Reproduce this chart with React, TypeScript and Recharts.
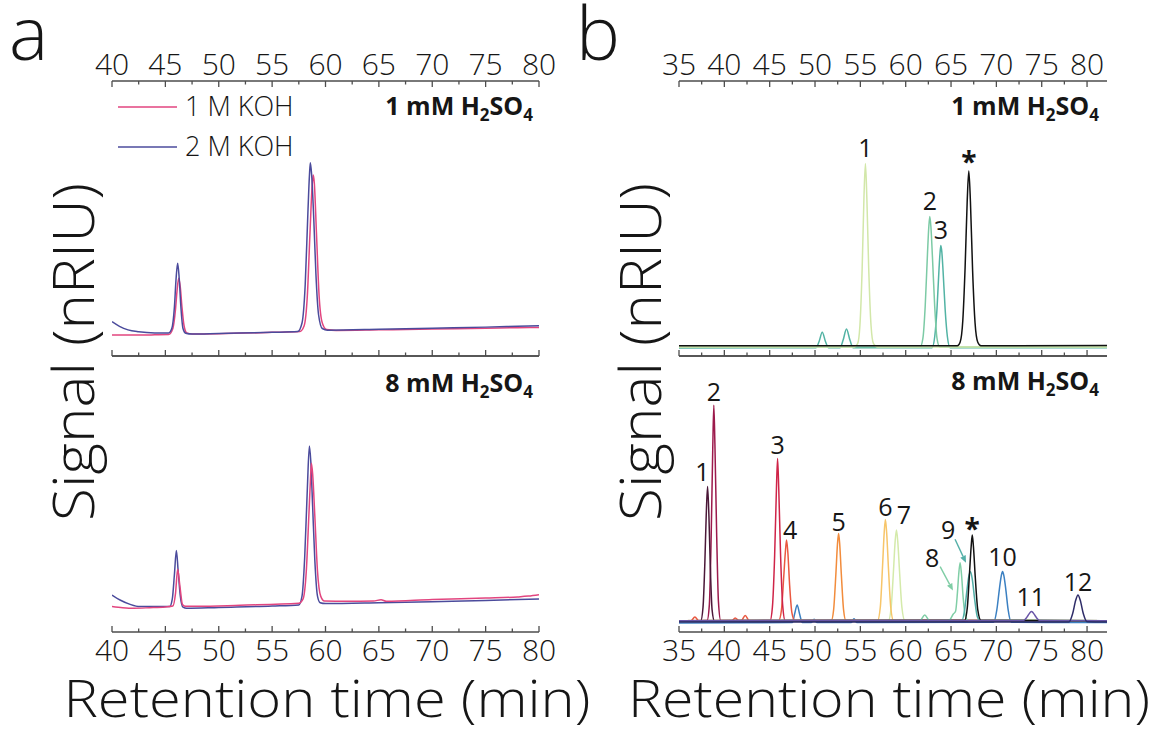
import React from 'react';
import { LineChart, Line, XAxis, YAxis, ReferenceDot, ReferenceLine } from 'recharts';

type Pt = [number, number];

const FONT = "'Open Sans', 'Noto Sans', 'DejaVu Sans', sans-serif";
const FRAME = '#4d4d4d';
const INK = '#161616';

// ---------- (a) eluent comparison, 1 mM H2SO4 ----------
const aTopKoh1: Pt[] = [
  [40, 7.6], [42, 7.6], [44, 7.7], [45.3, 7.8], [45.7, 10], [45.95, 17], [46.1, 24], [46.25, 28.3],
  [46.4, 25], [46.55, 18], [46.75, 11], [47.0, 8.4], [47.5, 8.0], [50, 8.1], [55, 8.6], [57.6, 8.9],
  [58.0, 11], [58.3, 22], [58.55, 45], [58.75, 62], [58.85, 65.8], [58.95, 63], [59.15, 45], [59.4, 22],
  [59.7, 12], [60.1, 9.6], [61, 9.3], [65, 9.5], [70, 9.8], [75, 10.1], [78, 10.3], [80, 10.4],
];
const aTopKoh2: Pt[] = [
  [40, 12.5], [40.7, 10.8], [41.5, 9.5], [42.5, 8.8], [44, 8.4], [45.3, 8.4], [45.6, 10], [45.85, 18],
  [46.0, 28], [46.15, 33.7], [46.3, 28], [46.45, 18], [46.65, 10], [46.9, 8.3], [47.5, 8.0], [50, 8.2],
  [55, 8.6], [57.4, 8.9], [57.8, 12], [58.1, 26], [58.35, 52], [58.5, 66], [58.58, 70.3], [58.7, 66],
  [58.9, 50], [59.1, 30], [59.35, 15], [59.7, 10], [60.2, 9.4], [65, 9.7], [70, 10.1], [75, 10.5],
  [78, 10.8], [80, 11.0],
];

// ---------- (a) eluent comparison, 8 mM H2SO4 ----------
const aBotKoh1: Pt[] = [
  [40, 9.2], [41, 8.8], [42, 8.6], [43.5, 8.8], [45, 9.1], [45.7, 9.4], [45.95, 14], [46.15, 22.7],
  [46.35, 17], [46.6, 10], [46.9, 9.3], [48, 9.3], [52, 9.7], [57.5, 10.4], [57.9, 12], [58.2, 22],
  [58.45, 43], [58.6, 56], [58.68, 61.1], [58.8, 57], [59.0, 42], [59.25, 22], [59.55, 13], [59.9, 11.2],
  [62, 11.1], [64.5, 11.2], [65.2, 11.7], [65.7, 11.1], [70, 11.8], [75, 12.3], [78, 12.7], [79, 13.0],
  [80, 13.5],
];
const aBotKoh2: Pt[] = [
  [40, 13.4], [40.8, 11.5], [41.7, 10.0], [42.6, 9.2], [44, 9.2], [45.4, 9.2], [45.65, 12], [45.85, 21],
  [46.03, 29.5], [46.2, 22], [46.4, 13], [46.65, 9], [47, 8.6], [50, 8.9], [55, 9.4], [57.5, 9.8],
  [57.8, 13], [58.05, 27], [58.3, 52], [58.49, 67.4], [58.62, 62], [58.8, 45], [59.0, 26], [59.25, 13],
  [59.5, 10.6], [60, 10.3], [65, 10.6], [70, 11.0], [75, 11.4], [80, 12.0],
];

// ---------- (b) standards, 1 mM H2SO4 ----------
const bTopP1: Pt[] = [
  [35, 3.3], [54.3, 3.3], [54.7, 4.5], [54.95, 11], [55.2, 32], [55.4, 58], [55.56, 70], [55.72, 57],
  [55.92, 32], [56.18, 11], [56.45, 4.5], [56.9, 3.3], [82.2, 3.3],
];
const bTopP2: Pt[] = [
  [35, 3.2], [61.6, 3.3], [61.9, 6.5], [62.15, 18], [62.4, 37], [62.55, 47], [62.66, 50.7], [62.78, 47],
  [62.95, 36], [63.2, 18], [63.45, 6.5], [63.75, 3.3], [82.2, 3.2],
];
const bTopP3: Pt[] = [
  [35, 2.9], [50.1, 3.0], [50.45, 5.3], [50.8, 8.6], [51.15, 5.3], [51.5, 3.0], [52.75, 3.0], [53.1, 5.8],
  [53.47, 9.8], [53.85, 5.8], [54.2, 3.0], [62.9, 3.0], [63.2, 7], [63.45, 17], [63.68, 32], [63.8, 38],
  [63.88, 40.2], [63.98, 38], [64.12, 31], [64.35, 17], [64.6, 7], [64.9, 3.0], [82.2, 3.0],
];
const bTopRef: Pt[] = [
  [35, 3.7], [65.7, 3.7], [66.0, 5], [66.3, 13], [66.55, 32], [66.78, 56], [66.96, 67.3], [67.14, 56],
  [67.38, 31], [67.65, 12], [67.95, 5], [68.3, 3.7], [82.2, 3.8],
];

// ---------- (b) standards, 8 mM H2SO4 ----------
const bBotP1: Pt[] = [
  [35, 4.0], [37.4, 4.1], [37.65, 9], [37.85, 25], [38.0, 42], [38.15, 52.7], [38.3, 42], [38.45, 24],
  [38.65, 8], [38.9, 4.1], [82.2, 4.1],
];
const bBotP2: Pt[] = [
  [35, 4.1], [38.1, 4.2], [38.35, 10], [38.55, 35], [38.72, 66], [38.84, 82.2], [38.96, 68], [39.15, 36],
  [39.35, 11], [39.6, 4.2], [82.2, 4.1],
];
const bBotP3: Pt[] = [
  [35, 4.1], [45.05, 4.2], [45.3, 9], [45.55, 28], [45.73, 50], [45.87, 62.9], [46.0, 52], [46.2, 28],
  [46.45, 9], [46.7, 4.2], [82.2, 4.1],
];
const bBotP4: Pt[] = [
  [35, 4.0], [36.3, 4.0], [36.75, 5.4], [37.2, 4.0], [40.8, 4.0], [41.2, 5.1], [41.6, 4.1], [41.9, 4.2],
  [42.3, 6.0], [42.75, 4.1], [46.0, 4.2], [46.3, 8], [46.55, 20], [46.73, 29], [46.86, 33.3], [47.0, 29],
  [47.2, 17], [47.45, 7], [47.75, 4.2], [82.2, 4.1],
];
const bBotP5: Pt[] = [
  [35, 4.1], [51.8, 4.2], [52.05, 8], [52.3, 21], [52.48, 32], [52.6, 35.7], [52.72, 32], [52.9, 21],
  [53.15, 8], [53.4, 4.2], [82.2, 4.1],
];
const bBotP6: Pt[] = [
  [35, 4.1], [56.9, 4.2], [57.2, 9], [57.45, 24], [57.63, 36], [57.76, 40.8], [57.9, 36], [58.1, 23],
  [58.35, 9], [58.65, 4.2], [82.2, 4.1],
];
const bBotP7: Pt[] = [
  [35, 4.1], [58.1, 4.2], [58.4, 9], [58.65, 22], [58.84, 33], [58.98, 37], [59.12, 33], [59.32, 22],
  [59.58, 9], [59.9, 4.2], [82.2, 4.1],
];
const bBotP8: Pt[] = [
  [35, 4.1], [61.6, 4.2], [62.1, 6.2], [62.6, 4.2], [64.8, 4.3], [65.25, 6.5], [65.5, 7.5], [65.7, 14],
  [65.85, 21], [66.0, 25.1], [66.15, 21], [66.35, 12], [66.6, 5.5], [66.9, 4.2], [82.2, 4.1],
];
const bBotP9: Pt[] = [
  [35, 4.1], [66.2, 4.2], [66.5, 8], [66.75, 15], [66.95, 20], [67.15, 21.8], [67.35, 19], [67.6, 12],
  [67.9, 5.5], [68.2, 4.2], [82.2, 4.1],
];
const bBotRef: Pt[] = [
  [35, 4.1], [66.5, 4.2], [66.8, 9], [67.05, 22], [67.22, 31], [67.34, 35.1], [67.47, 31], [67.67, 20],
  [67.95, 8], [68.3, 4.2], [82.2, 4.1],
];
const bBotP10: Pt[] = [
  [35, 3.3], [47.5, 3.4], [47.75, 6.5], [48.03, 9.8], [48.3, 6.5], [48.6, 3.4], [49.6, 3.4], [49.9, 4.6],
  [50.2, 3.4], [54.0, 3.4], [54.3, 4.8], [54.6, 3.4], [69.7, 3.5], [70.05, 8], [70.35, 16], [70.55, 20.5],
  [70.68, 21.9], [70.82, 20.5], [71.02, 16], [71.3, 8], [71.65, 3.5], [82.2, 3.4],
];
const bBotP11: Pt[] = [
  [35, 4.1], [73.0, 4.2], [73.4, 5.5], [73.7, 7.0], [73.87, 7.4], [74.05, 7.0], [74.35, 5.5], [74.75, 4.2],
  [82.2, 4.1],
];
const bBotP12: Pt[] = [
  [35, 3.6], [78.0, 3.6], [78.4, 6.5], [78.75, 11.5], [79.0, 13.4], [79.25, 11.5], [79.6, 6.5], [80.0, 3.7],
  [82.2, 3.6],
];

// peak annotations: [retention time, signal, text]
const bTopLabels: [number, number, string][] = [
  [55.56, 75.7, '1'], [62.66, 56.2, '2'], [63.88, 45.8, '3'], [66.96, 72, '*'],
];
const bBotLabels: [number, number, string][] = [
  [37.58, 58.1, '1'], [38.84, 87.1, '2'], [45.87, 67.8, '3'], [47.27, 37.0, '4'], [52.6, 40, '5'],
  [57.76, 45.4, '6'], [59.81, 42.4, '7'], [62.93, 26.7, '8'], [64.68, 37.0, '9'], [67.34, 38.8, '*'],
  [70.68, 27.1, '10'], [73.8, 12.6, '11'], [79.0, 18.2, '12'],
];
// arrows: [from t, from v, to t, to v]
const bBotArrows: { seg: [number, number, number, number]; color: string }[] = [
  { seg: [63.8, 23.7, 65.21, 15.0], color: '#7fcda5' },
  { seg: [65.44, 33.6, 66.65, 25.1], color: '#55b0a8' },
];

const ticksA = [40, 42.5, 45, 47.5, 50, 52.5, 55, 57.5, 60, 62.5, 65, 67.5, 70, 72.5, 75, 77.5, 80];
const ticksB = [35, 37.5, 40, 42.5, 45, 47.5, 50, 52.5, 55, 57.5, 60, 62.5, 65, 67.5, 70, 72.5, 75, 77.5, 80];

const PINK = '#e2457f';
const NAVY = '#4b4b9c';

const toRows = (pts: Pt[]) => pts.map(([t, v]) => ({ t, v }));

type Series = { data: Pt[]; color: string; width?: number };

const makeTick = (showLabel: boolean, side: 'top' | 'bottom') => (props: any) => {
  const { x, y, payload } = props;
  const val = payload.value as number;
  const major = Math.abs(val % 5) < 1e-6;
  const len = major ? 6 : 3.5;
  const dir = side === 'top' ? 1 : -1;
  return (
    <g>
      <line x1={x} x2={x} y1={y} y2={y + dir * len} stroke={FRAME} strokeWidth={1.3} />
      {showLabel && major && (
        <text
          x={x}
          y={side === 'top' ? y - 6 : y + 29}
          textAnchor="middle"
          fontSize={30}
          fontWeight={300}
          fontFamily={FONT}
          fill={INK}
        >
          {val}
        </text>
      )}
    </g>
  );
};

const peakLabel = (text: string) => (props: any) => {
  const { cx, cy } = props;
  if (text === '*') {
    return (
      <text x={cx} y={cy + 14} textAnchor="middle" fontSize={28} fontWeight={700} fontFamily={FONT} fill={INK}>
        *
      </text>
    );
  }
  return (
    <text x={cx} y={cy + 9} textAnchor="middle" fontSize={25} fontWeight={400} fontFamily={FONT} fill={INK}>
      {text}
    </text>
  );
};

const arrowShape = (color: string) => (props: any) => {
  const { x1, y1, x2, y2 } = props;
  const ang = Math.atan2(y2 - y1, x2 - x1);
  const L = 7;
  const W = 3;
  const bx = x2 - L * Math.cos(ang);
  const by = y2 - L * Math.sin(ang);
  const px = -Math.sin(ang) * W;
  const py = Math.cos(ang) * W;
  return (
    <g>
      <line x1={x1} y1={y1} x2={bx} y2={by} stroke={color} strokeWidth={1.4} />
      <polygon points={`${x2},${y2} ${bx + px},${by + py} ${bx - px},${by - py}`} fill={color} />
    </g>
  );
};

type PanelProps = {
  left: number;
  top: number;
  w: number;
  h: number;
  domain: [number, number];
  ticks: number[];
  pos: 'top' | 'bottom';
  series: Series[];
  labels?: [number, number, string][];
  arrows?: { seg: [number, number, number, number]; color: string }[];
};

function Panel({ left, top, w, h, domain, ticks, pos, series, labels = [], arrows = [] }: PanelProps) {
  const ML = 40;
  const MR = 40;
  const AX = 50;
  const axisLine = { stroke: FRAME, strokeWidth: 1.6 };
  return (
    <div style={{ position: 'absolute', left: left - ML, top: top - AX, width: w + ML + MR, height: h + 2 * AX }}>
      <LineChart width={w + ML + MR} height={h + 2 * AX} margin={{ top: 0, right: MR, bottom: 0, left: ML }}>
        <XAxis
          xAxisId="t"
          orientation="top"
          dataKey="t"
          type="number"
          domain={domain}
          ticks={ticks}
          interval={0}
          allowDataOverflow
          height={AX}
          axisLine={axisLine}
          tickLine={false}
          tickSize={0}
          tickMargin={0}
          tick={pos === 'top' ? makeTick(true, 'top') : false}
        />
        <XAxis
          xAxisId="b"
          orientation="bottom"
          dataKey="t"
          type="number"
          domain={domain}
          ticks={ticks}
          interval={0}
          allowDataOverflow
          height={AX}
          axisLine={axisLine}
          tickLine={false}
          tickSize={0}
          tickMargin={0}
          tick={pos === 'top' ? makeTick(false, 'bottom') : makeTick(true, 'bottom')}
        />
        <YAxis yAxisId="l" type="number" domain={[0, 100]} allowDataOverflow width={0} tick={false} tickLine={false} axisLine={axisLine} />
        <YAxis
          yAxisId="r"
          orientation="right"
          type="number"
          domain={[0, 100]}
          allowDataOverflow
          width={0}
          tick={false}
          tickLine={false}
          axisLine={axisLine}
        />
        {series.map((s, i) => (
          <Line
            key={i}
            xAxisId="t"
            yAxisId="l"
            data={toRows(s.data)}
            dataKey="v"
            type="monotone"
            stroke={s.color}
            strokeWidth={s.width ?? 1.5}
            dot={false}
            activeDot={false}
            isAnimationActive={false}
          />
        ))}
        {arrows.map((a, i) => (
          <ReferenceLine
            key={`ar${i}`}
            xAxisId="t"
            yAxisId="l"
            segment={[
              { x: a.seg[0], y: a.seg[1] },
              { x: a.seg[2], y: a.seg[3] },
            ]}
            stroke={a.color}
            shape={arrowShape(a.color)}
          />
        ))}
        {labels.map(([t, v, text], i) => (
          <ReferenceDot key={`lb${i}`} xAxisId="t" yAxisId="l" x={t} y={v} r={0} shape={peakLabel(text)} />
        ))}
      </LineChart>
    </div>
  );
}

function Conc({ x, y, n }: { x: number; y: number; n: string }) {
  return (
    <text x={x} y={y} textAnchor="end" fontSize={25} fontWeight={700} fontFamily={FONT} fill={INK}>
      {`${n} mM H`}
      <tspan fontSize={17} dy={6}>2</tspan>
      <tspan dy={-6}>SO</tspan>
      <tspan fontSize={17} dy={6}>4</tspan>
    </text>
  );
}

export default function App() {
  const A = { left: 112, w: 427, domain: [40, 80] as [number, number], ticks: ticksA };
  const B = { left: 679, w: 428, domain: [35, 82.2] as [number, number], ticks: ticksB };
  const TOP = { top: 81, h: 275 };
  const BOT = { top: 356, h: 276 };
  return (
    <div style={{ position: 'absolute', left: 0, top: 0, width: 1160, height: 731, background: '#fff', overflow: 'hidden' }}>
      <Panel
        {...A}
        {...TOP}
        pos="top"
        series={[
          { data: aTopKoh1, color: PINK },
          { data: aTopKoh2, color: NAVY },
        ]}
      />
      <Panel
        {...A}
        {...BOT}
        pos="bottom"
        series={[
          { data: aBotKoh2, color: NAVY },
          { data: aBotKoh1, color: PINK },
        ]}
      />
      <Panel
        {...B}
        {...TOP}
        pos="top"
        series={[
          { data: bTopP3, color: '#52b3a4' },
          { data: bTopP2, color: '#7ccaa5' },
          { data: bTopP1, color: '#d2e7a9' },
          { data: bTopRef, color: '#111111' },
        ]}
        labels={bTopLabels}
      />
      <Panel
        {...B}
        {...BOT}
        pos="bottom"
        series={[
          { data: bBotP10, color: '#3b80c2' },
          { data: bBotP7, color: '#d4eaaa' },
          { data: bBotP6, color: '#f7c569' },
          { data: bBotP5, color: '#f28c3c' },
          { data: bBotP4, color: '#ea5840' },
          { data: bBotP3, color: '#cf2448' },
          { data: bBotP2, color: '#9c1a4c' },
          { data: bBotP1, color: '#4b1838' },
          { data: bBotP8, color: '#80cea6' },
          { data: bBotP9, color: '#4fada6' },
          { data: bBotRef, color: '#111111' },
          { data: bBotP11, color: '#6a56a8' },
          { data: bBotP12, color: '#2e2c68' },
        ]}
        labels={bBotLabels}
        arrows={bBotArrows}
      />
      <svg width={1160} height={731} style={{ position: 'absolute', left: 0, top: 0, pointerEvents: 'none' }}>
        <text x={9} y={60} fontSize={74} fontWeight={300} fontFamily={FONT} fill={INK}>a</text>
        <text x={576} y={60} fontSize={74} fontWeight={300} fontFamily={FONT} fill={INK}>b</text>
        <text
          transform="translate(94,352) rotate(-90)"
          textAnchor="middle"
          fontSize={57}
          fontWeight={300}
          fontFamily={FONT}
          fill={INK}
          textLength={338}
          lengthAdjust="spacingAndGlyphs"
        >
          Signal (nRIU)
        </text>
        <text
          transform="translate(661,352) rotate(-90)"
          textAnchor="middle"
          fontSize={57}
          fontWeight={300}
          fontFamily={FONT}
          fill={INK}
          textLength={338}
          lengthAdjust="spacingAndGlyphs"
        >
          Signal (nRIU)
        </text>
        <text
          x={327}
          y={717}
          textAnchor="middle"
          fontSize={52}
          fontWeight={300}
          fontFamily={FONT}
          fill={INK}
          textLength={527}
          lengthAdjust="spacingAndGlyphs"
        >
          Retention time (min)
        </text>
        <text
          x={889}
          y={717}
          textAnchor="middle"
          fontSize={52}
          fontWeight={300}
          fontFamily={FONT}
          fill={INK}
          textLength={522}
          lengthAdjust="spacingAndGlyphs"
        >
          Retention time (min)
        </text>
        <line x1={118} x2={177} y1={107} y2={107} stroke={PINK} strokeWidth={1.6} />
        <text x={185} y={116} fontSize={27} fontWeight={300} fontFamily={FONT} fill={INK}>1 M KOH</text>
        <line x1={118} x2={177} y1={147} y2={147} stroke={NAVY} strokeWidth={1.6} />
        <text x={185} y={156} fontSize={27} fontWeight={300} fontFamily={FONT} fill={INK}>2 M KOH</text>
        <Conc x={533} y={115} n="1" />
        <Conc x={533} y={392} n="8" />
        <Conc x={1099} y={115} n="1" />
        <Conc x={1099} y={390} n="8" />
      </svg>
    </div>
  );
}
